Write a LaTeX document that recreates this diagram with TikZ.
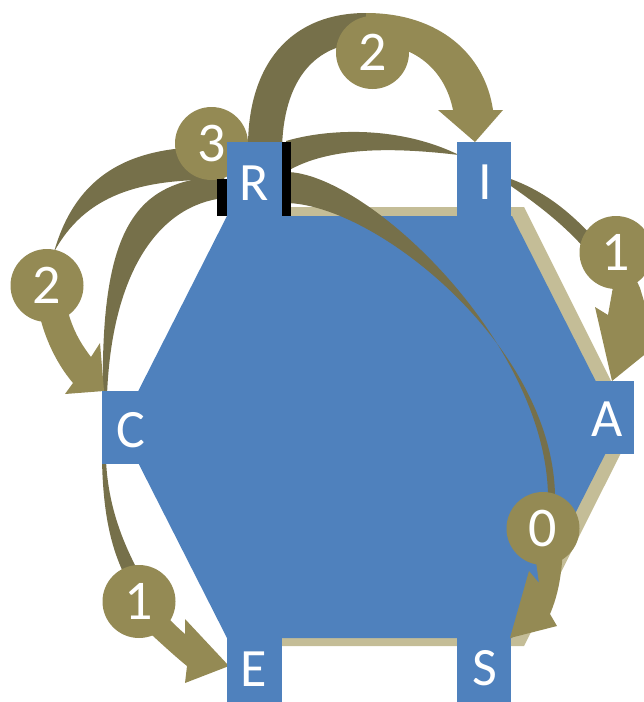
\documentclass[tikz,border=0pt]{standalone}
\usepackage{fontspec}
\setmainfont{Carlito}
\definecolor{tileblue}{HTML}{4F81BD}
\definecolor{hexshadow}{HTML}{C4BD97}
\definecolor{badgeolive}{HTML}{948A54}
\definecolor{trailolive}{HTML}{76704A}
\tikzset{
  tile/.style={rectangle, fill=tileblue, draw=none, inner sep=0pt,
               minimum width=55pt, minimum height=74pt},
  tag/.style={text=white, inner sep=0pt, font=\fontsize{54}{54}\selectfont},
  badge/.style={circle, fill=badgeolive, draw=none, inner sep=0pt,
                minimum size=73pt, text=white, font=\fontsize{56}{56}\selectfont},
  trail/.style={fill=trailolive},
  flow/.style={fill=badgeolive},
  bar/.style={fill=black}
}
\begin{document}
\begin{tikzpicture}[x=1pt,y=-1pt]
\useasboundingbox (0,0) rectangle (644,702);
\clip (0,0) rectangle (644,702);

% hexagon with its offset shadow
\fill[hexshadow] (239,207) -- (524,207) -- (634,427) -- (524,646) -- (239,646) -- (135,427) -- cycle;
\fill[tileblue] (227,216) -- (512,216) -- (619,427) -- (512,638) -- (227,638) -- (120,427) -- cycle;

% tapering trails
% R to I, running behind I
\fill[trail] (286,141) .. controls (330,128) and (400,126) .. (459,155)
             .. controls (400,148) and (330,145) .. (286,172) -- cycle;
% I to badge 1
\fill[trail] (508,178) .. controls (545,191) and (570,212) .. (596,240) -- (586,250)
             .. controls (565,226) and (540,206) .. (508,184) -- cycle;
% R to badge 0
\fill[trail] (286,172) .. controls (365,172) and (545,340) .. (548,495) -- (555,495)
             .. controls (552,345) and (375,204) .. (286,203) -- cycle;
% R up to badge 2 on top
\fill[trail] (248,150) .. controls (247,65) and (290,13) .. (366,13) -- (366,43)
             .. controls (315,43) and (283,80) .. (282,150) -- cycle;
% R to badge 2 on the left
\fill[trail] (224,147) .. controls (150,145) and (80,160) .. (54,252)
             .. controls (85,195) and (140,178) .. (224,180) -- cycle;
% R down to C
\fill[trail] (224,176) .. controls (140,180) and (100,220) .. (103,395) -- (107,395)
             .. controls (112,270) and (160,205) .. (224,198) -- cycle;
% C to badge 1 below
\fill[trail] (102,460) .. controls (103,510) and (110,545) .. (124,574) -- (137,569)
             .. controls (122,540) and (108,505) .. (106,460) -- cycle;

% arrow heads leaving the badges
% badge 2 (top) to I
\fill[flow] (366,13) .. controls (440,13) and (485,55) .. (493,110) -- (503,110) -- (475,142)
            -- (438,110) -- (453,110) .. controls (445,70) and (415,43) .. (366,43) -- cycle;
% badge 2 (left) to C
\fill[flow] (36,295) .. controls (40,330) and (55,362) .. (73,383) -- (65,394) -- (104,391)
            -- (100,343) -- (91,357) .. controls (78,340) and (70,325) .. (64,295) -- cycle;
% badge 1 (bottom) to E
\fill[flow] (128,612) -- (153,636) .. controls (165,647) and (177,658) .. (187,666) -- (185,683)
            -- (229,666) -- (185,619) -- (185,634) .. controls (178,628) and (172,622) .. (166,616)
            -- (150,596) -- cycle;
% badge 1 (right) to A
\fill[flow] (606,262) -- (613,287) -- (608,315) -- (595,307) -- (612,381) -- (675,330)
            -- (650,321) -- (640,288) -- (628,262) -- cycle;
% badge 0 to S
\fill[flow] (533,540) -- (539,583) -- (529,571) -- (510,638) -- (557,626) -- (550,614)
            .. controls (556,600) and (562,580) .. (563,545) -- cycle;

% count badges
\node[badge] (n3)  at (211.5,143.5) {3};
\node[badge] (n2l) at (47,285.5) {2};
\node[badge] (n2t) at (372.5,52.5) {2};
\node[badge] (n1r) at (616,252.5) {1};
\node[badge] (n1b) at (139,601.5) {1};
\node[badge] (n0)  at (543,528.5) {0};

% letter tiles
\node[tile] (R) at (254.5,179) {};
\node[tile, minimum width=54pt] (I) at (484,179) {};
\node[tile, minimum height=73pt] (C) at (129.5,427.5) {};
\node[tile, minimum height=73pt] (A) at (606.5,417.5) {};
\node[tile] (E) at (254.5,675) {};
\node[tile, minimum width=54pt] (S) at (484,675) {};

% black edges beside R
\fill[bar] (R.south west) rectangle ++(-10,-37);
\fill[bar] (R.south east) rectangle ++(9,-74);

% tile letters
\node[tag] (tR) at (254.5,183.5) {R};
\node[tag] (tI) at (485,182) {I};
\node[tag] (tC) at (131,430) {C};
\node[tag] (tA) at (607.5,419.5) {A};
\node[tag] (tE) at (254,669) {E};
\node[tag] (tS) at (484.5,668.5) {S};
\end{tikzpicture}
\end{document}
